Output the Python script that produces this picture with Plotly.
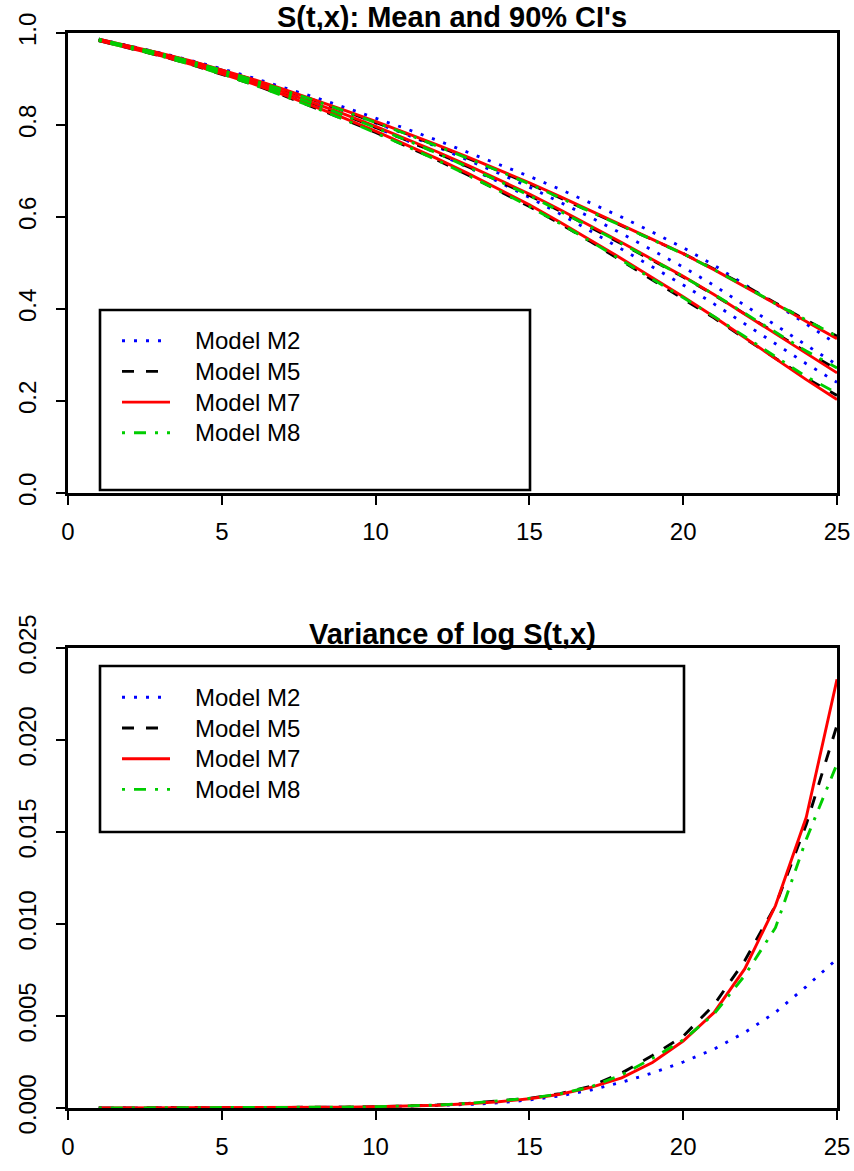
import plotly.graph_objects as go

# ---------------- data ----------------
t = list(range(1, 26))

# S(t,x): mean, lower and upper 90% limits per model
m2_mean = [0.9850, 0.9702, 0.9542, 0.9367, 0.9180, 0.8976, 0.8760, 0.8533, 0.8296, 0.8050,
           0.7793, 0.7524, 0.7243, 0.6951, 0.6650, 0.6329, 0.5990, 0.5639, 0.5279, 0.4912,
           0.4512, 0.4086, 0.3650, 0.3214, 0.2789]
m2_lower = [0.9834, 0.9680, 0.9515, 0.9332, 0.9137, 0.8925, 0.8699, 0.8460, 0.8210, 0.7949,
            0.7672, 0.7384, 0.7080, 0.6762, 0.6425, 0.6067, 0.5689, 0.5302, 0.4914, 0.4524,
            0.4111, 0.3678, 0.3242, 0.2812, 0.2405]
m2_upper = [0.9866, 0.9724, 0.9569, 0.9402, 0.9223, 0.9027, 0.8821, 0.8606, 0.8382, 0.8153,
            0.7916, 0.7667, 0.7409, 0.7145, 0.6883, 0.6602, 0.6306, 0.5997, 0.5671, 0.5333,
            0.4952, 0.4540, 0.4110, 0.3673, 0.3234]

m5_mean = [0.9850, 0.9697, 0.9531, 0.9350, 0.9152, 0.8937, 0.8706, 0.8464, 0.8211, 0.7949,
           0.7676, 0.7391, 0.7094, 0.6787, 0.6470, 0.6129, 0.5777, 0.5420, 0.5057, 0.4696,
           0.4306, 0.3894, 0.3477, 0.3062, 0.2690]
m5_lower = [0.9834, 0.9675, 0.9504, 0.9315, 0.9109, 0.8886, 0.8643, 0.8388, 0.8119, 0.7840,
            0.7544, 0.7239, 0.6912, 0.6576, 0.6229, 0.5854, 0.5460, 0.5045, 0.4632, 0.4238,
            0.3807, 0.3361, 0.2926, 0.2497, 0.2122]
m5_upper = [0.9866, 0.9719, 0.9558, 0.9385, 0.9195, 0.8988, 0.8769, 0.8540, 0.8303, 0.8059,
            0.7810, 0.7546, 0.7281, 0.7005, 0.6720, 0.6417, 0.6113, 0.5823, 0.5521, 0.5204,
            0.4870, 0.4511, 0.4132, 0.3755, 0.3410]

m7_mean = [0.9850, 0.9699, 0.9535, 0.9356, 0.9160, 0.8948, 0.8720, 0.8481, 0.8231, 0.7972,
           0.7701, 0.7418, 0.7123, 0.6817, 0.6501, 0.6159, 0.5806, 0.5446, 0.5078, 0.4711,
           0.4314, 0.3892, 0.3462, 0.3031, 0.2611]
m7_lower = [0.9834, 0.9677, 0.9508, 0.9321, 0.9117, 0.8897, 0.8659, 0.8407, 0.8142, 0.7866,
            0.7575, 0.7270, 0.6948, 0.6613, 0.6266, 0.5887, 0.5495, 0.5095, 0.4679, 0.4266,
            0.3832, 0.3374, 0.2914, 0.2465, 0.2031]
m7_upper = [0.9866, 0.9721, 0.9562, 0.9391, 0.9203, 0.8999, 0.8781, 0.8555, 0.8320, 0.8080,
            0.7829, 0.7569, 0.7303, 0.7027, 0.6745, 0.6443, 0.6135, 0.5821, 0.5511, 0.5203,
            0.4856, 0.4490, 0.4114, 0.3727, 0.3356]

m8_mean = [0.9850, 0.9696, 0.9530, 0.9348, 0.9150, 0.8934, 0.8703, 0.8460, 0.8207, 0.7945,
           0.7672, 0.7388, 0.7092, 0.6785, 0.6469, 0.6130, 0.5780, 0.5425, 0.5064, 0.4705,
           0.4318, 0.3910, 0.3497, 0.3085, 0.2720]
m8_lower = [0.9834, 0.9674, 0.9503, 0.9313, 0.9107, 0.8883, 0.8640, 0.8384, 0.8115, 0.7836,
            0.7540, 0.7236, 0.6910, 0.6574, 0.6228, 0.5857, 0.5466, 0.5059, 0.4649, 0.4257,
            0.3839, 0.3401, 0.2972, 0.2529, 0.2172]
m8_upper = [0.9866, 0.9718, 0.9557, 0.9383, 0.9193, 0.8985, 0.8766, 0.8536, 0.8299, 0.8055,
            0.7806, 0.7543, 0.7279, 0.7003, 0.6719, 0.6416, 0.6112, 0.5817, 0.5516, 0.5200,
            0.4856, 0.4496, 0.4115, 0.3764, 0.3406]

# Variance of log S(t,x)
var_m2 = [0.000001, 0.000002, 0.000003, 0.000005, 0.000008, 0.000012, 0.000018, 0.000027, 0.00004, 0.00006,
          0.00009, 0.00013, 0.00019, 0.00028, 0.00044, 0.00066, 0.00098, 0.0014, 0.0019, 0.0025,
          0.0032, 0.0041, 0.0052, 0.0066, 0.0081]
var_m5 = [0.000001, 0.000002, 0.000003, 0.000005, 0.000008, 0.000012, 0.000019, 0.00003, 0.000046, 0.00007,
          0.00011, 0.00016, 0.00025, 0.00037, 0.00053, 0.00078, 0.00118, 0.0019, 0.00285, 0.0039,
          0.0056, 0.0080, 0.0110, 0.0154, 0.0208]
var_m7 = [0.000001, 0.000002, 0.000003, 0.000005, 0.000008, 0.000012, 0.000018, 0.000028, 0.000043, 0.000066,
          0.0001, 0.00015, 0.00023, 0.00034, 0.0005, 0.00075, 0.00112, 0.00164, 0.00247, 0.00364,
          0.00518, 0.00756, 0.0110, 0.0158, 0.0233]
var_m8 = [0.000001, 0.000002, 0.000003, 0.000005, 0.000008, 0.000012, 0.000019, 0.00003, 0.000046, 0.00007,
          0.00011, 0.00016, 0.00025, 0.00037, 0.00053, 0.00077, 0.00115, 0.0018, 0.0027, 0.0037,
          0.0051, 0.0072, 0.0098, 0.0146, 0.0187]

model_names = ["Model M2", "Model M5", "Model M7", "Model M8"]
x_ticks = [0, 5, 10, 15, 20, 25]
y1_ticks = [0.0, 0.2, 0.4, 0.6, 0.8, 1.0]
y2_ticks = [0.0, 0.005, 0.010, 0.015, 0.020, 0.025]

# ---------------- styling ----------------
W, H = 854, 1171
FONT = "Liberation Sans, Arial, Helvetica, sans-serif"
colors = ["#0000FF", "#000000", "#FF0000", "#00CD00"]
dashes = ["3px,9px", "12px,12px", "solid", "3px,9px,12px,9px"]
LW = 2.9

def px(x):
    return x / W

def py(y):
    return 1 - y / H

fig = go.Figure()

surv = [(m2_lower, m2_mean, m2_upper), (m5_lower, m5_mean, m5_upper),
        (m7_lower, m7_mean, m7_upper), (m8_lower, m8_mean, m8_upper)]
variances = [var_m2, var_m5, var_m7, var_m8]

for i, name in enumerate(model_names):
    for series in surv[i]:
        fig.add_trace(go.Scatter(x=t, y=series, mode="lines", name=name, showlegend=False,
                                 line=dict(color=colors[i], width=LW, dash=dashes[i]),
                                 xaxis="x", yaxis="y"))
for i, name in enumerate(model_names):
    fig.add_trace(go.Scatter(x=t, y=variances[i], mode="lines", name=name, showlegend=False,
                             line=dict(color=colors[i], width=LW, dash=dashes[i]),
                             xaxis="x2", yaxis="y2"))

axis_common = dict(showline=True, linecolor="black", linewidth=2.5, mirror=True,
                   ticks="outside", ticklen=9, tickwidth=2, tickcolor="black",
                   showgrid=False, zeroline=False, automargin=False,
                   tickfont=dict(family=FONT, size=24, color="black"))

xdom = [px(68), px(837)]
fig.update_layout(
    width=W, height=H, autosize=False,
    margin=dict(l=0, r=0, t=0, b=0, autoexpand=False),
    paper_bgcolor="white", plot_bgcolor="white",
    showlegend=False,
    xaxis=dict(domain=xdom, range=[0, 25], tickvals=x_ticks, anchor="y",
               ticklabelstandoff=6, **axis_common),
    yaxis=dict(domain=[py(493), py(33)], range=[0, 1], tickvals=y1_ticks, tickformat=".1f",
               tickangle=-90, anchor="x", ticklabelstandoff=11, **axis_common),
    xaxis2=dict(domain=xdom, range=[0, 25], tickvals=x_ticks, anchor="y2",
                ticklabelstandoff=6, **axis_common),
    yaxis2=dict(domain=[py(1108), py(648)], range=[0, 0.025], tickvals=y2_ticks, tickformat=".3f",
                tickangle=-90, anchor="x2", ticklabelstandoff=11, **axis_common),
)

# titles
fig.add_annotation(x=px(452), y=py(17), xref="paper", yref="paper", showarrow=False,
                   text="<b>S(t,x): Mean and 90% CI's</b>", xanchor="center", yanchor="middle",
                   font=dict(family=FONT, size=29, color="black"))
fig.add_annotation(x=px(452), y=py(634), xref="paper", yref="paper", showarrow=False,
                   text="<b>Variance of log S(t,x)</b>", xanchor="center", yanchor="middle",
                   font=dict(family=FONT, size=29, color="black"))

# legends (box, line samples, labels)
legend_boxes = [(100, 310, 530, 490), (100, 666, 684, 832)]
legend_first_y = [340.7, 697.3]
step = 30.7
for (x0, y0, x1, y1), fy in zip(legend_boxes, legend_first_y):
    fig.add_shape(type="rect", xref="paper", yref="paper",
                  x0=px(x0), x1=px(x1), y0=py(y0), y1=py(y1),
                  line=dict(color="black", width=2.6), fillcolor="rgba(0,0,0,0)")
    for i, name in enumerate(model_names):
        yy = fy + i * step
        fig.add_shape(type="line", xref="paper", yref="paper",
                      x0=px(122), x1=px(170), y0=py(yy), y1=py(yy),
                      line=dict(color=colors[i], width=LW, dash=dashes[i]))
        fig.add_annotation(x=px(193), y=py(yy), xref="paper", yref="paper", showarrow=False,
                           text=name, xanchor="left", yanchor="middle",
                           font=dict(family=FONT, size=24, color="black"))

fig.write_html("out.html")
